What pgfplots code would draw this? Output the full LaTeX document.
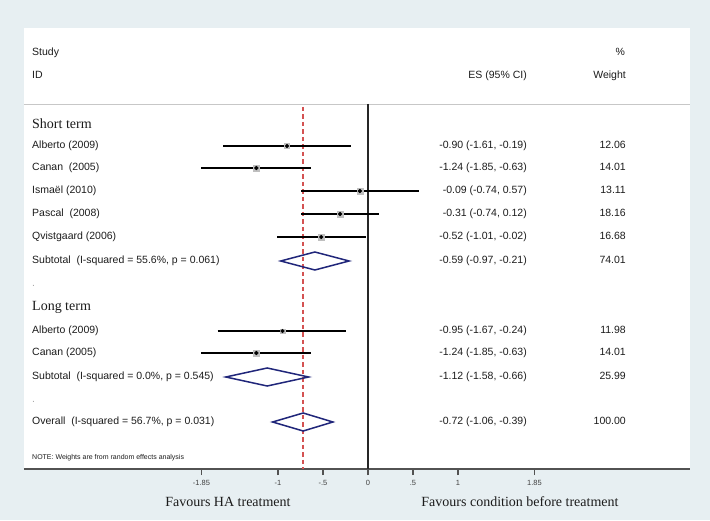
\documentclass[border=0pt]{standalone}
\usepackage{pgfplots}
\pgfplotsset{compat=1.18}
\usepackage{fontspec}
\setmainfont{Liberation Serif}
\newfontfamily\arial{Liberation Sans}
\definecolor{bgc}{RGB}{231,239,242}
\definecolor{navy}{RGB}{32,38,122}
\definecolor{refline}{RGB}{212,82,82}
\definecolor{txt}{RGB}{28,28,28}
\tikzset{
  rowtxt/.style={anchor=mid west, font=\arial\fontsize{10.5}{12}\selectfont, text=txt, inner sep=0pt},
  estxt/.style={anchor=mid east, font=\arial\fontsize{10.5}{12}\selectfont, text=txt, inner sep=0pt},
  grptxt/.style={anchor=mid west, font=\fontsize{14}{16}\selectfont, text=txt, inner sep=0pt},
}
\begin{document}
\begin{tikzpicture}
\fill[bgc] (-24pt,-51pt) rectangle (686pt,469pt);
\fill[white] (0pt,0pt) rectangle (666pt,441pt);
\begin{axis}[
  at={(0pt,0pt)}, anchor=south west,
  scale only axis, width=666pt, height=441pt,
  xmin=-3.8222, xmax=3.5778, ymin=-469, ymax=-28,
  clip=false,
  axis x line*=bottom, axis y line=none,
  x axis line style={-, line width=1.8pt, draw=black!68},
  xtick={-1.85,-1,-0.5,0,0.5,1,1.85},
  xticklabels={-1.85,-1,-.5,0,.5,1,1.85},
  tick align=outside, major tick length=6pt,
  x tick style={line width=1.4pt, draw=black!68},
  xticklabel style={font=\arial\fontsize{7.5}{8}\selectfont, text=black!75, yshift=-1.5pt},
]
% separator
\draw[black!22, line width=0.9pt] (axis cs:-3.8222,-104) -- (axis cs:3.5778,-104);
% null line
\addplot[black!85, line width=1.1pt] coordinates {(0,-104) (0,-469)};
% overall effect line
\addplot[refline, line width=1.4pt, dash pattern=on 4.5pt off 3pt, mark=none] coordinates {(-0.72,-107) (-0.72,-469)};
% confidence intervals
\addplot[black, line width=1.2pt] coordinates {(-1.61,-146) (-0.19,-146)};
\addplot[black, line width=1.2pt] coordinates {(-1.85,-168) (-0.63,-168)};
\addplot[black, line width=1.2pt] coordinates {(-0.74,-191) (0.57,-191)};
\addplot[black, line width=1.2pt] coordinates {(-0.74,-214) (0.12,-214)};
\addplot[black, line width=1.2pt] coordinates {(-1.01,-237) (-0.02,-237)};
\addplot[black, line width=1.2pt] coordinates {(-1.67,-331) (-0.24,-331)};
\addplot[black, line width=1.2pt] coordinates {(-1.85,-353) (-0.63,-353)};
% weight boxes
\addplot[only marks, mark=square*, mark size=3pt, mark options={draw=gray!50, fill=gray!50}] coordinates {(-1.24,-168) (-0.09,-191) (-0.31,-214) (-0.52,-237) (-1.24,-353)};
\addplot[only marks, mark=square*, mark size=2.3pt, mark options={draw=gray!50, fill=gray!50}] coordinates {(-0.90,-146) (-0.95,-331)};
% point estimates
\addplot[only marks, mark=*, mark size=1.9pt, mark options={draw=black, fill=black}] coordinates {(-0.90,-146) (-1.24,-168) (-0.09,-191) (-0.31,-214) (-0.52,-237) (-0.95,-331) (-1.24,-353)};
% diamonds
\addplot[navy, line width=1.5pt, line join=miter] coordinates {(-0.97,-261) (-0.59,-252) (-0.21,-261) (-0.59,-270)} -- cycle;
\addplot[navy, line width=1.5pt, line join=miter] coordinates {(-1.58,-377) (-1.12,-368) (-0.66,-377) (-1.12,-386)} -- cycle;
\addplot[navy, line width=1.5pt, line join=miter] coordinates {(-1.06,-422) (-0.72,-413) (-0.39,-422) (-0.72,-431)} -- cycle;
% headers
\node[rowtxt] at (axis cs:-3.7333,-53) {Study};
\node[rowtxt] at (axis cs:-3.7333,-76) {ID};
\node[estxt] at (axis cs:2.856,-53) {\%};
\node[estxt] at (axis cs:1.7667,-76) {ES (95\% CI)};
\node[estxt] at (axis cs:2.867,-76) {Weight};
% left column
\node[grptxt] at (axis cs:-3.7333,-126) {Short term};
\node[rowtxt] at (axis cs:-3.7333,-146) {Alberto (2009)};
\node[rowtxt] at (axis cs:-3.7333,-168) {Canan\ \ (2005)};
\node[rowtxt] at (axis cs:-3.7333,-191) {Ismaël (2010)};
\node[rowtxt] at (axis cs:-3.7333,-214) {Pascal\ \ (2008)};
\node[rowtxt] at (axis cs:-3.7333,-237) {Qvistgaard (2006)};
\node[rowtxt] at (axis cs:-3.7333,-261) {Subtotal\ \ (I-squared = 55.6\%, p = 0.061)};
\node[rowtxt, text=black!35] at (axis cs:-3.7333,-284) {.};
\node[grptxt] at (axis cs:-3.7333,-308) {Long term};
\node[rowtxt] at (axis cs:-3.7333,-331) {Alberto (2009)};
\node[rowtxt] at (axis cs:-3.7333,-353) {Canan (2005)};
\node[rowtxt] at (axis cs:-3.7333,-377) {Subtotal\ \ (I-squared = 0.0\%, p = 0.545)};
\node[rowtxt, text=black!35] at (axis cs:-3.7333,-400) {.};
\node[rowtxt] at (axis cs:-3.7333,-422) {Overall\ \ (I-squared = 56.7\%, p = 0.031)};
\node[anchor=mid west, inner sep=0pt, font=\arial\fontsize{7}{8}\selectfont, text=txt] at (axis cs:-3.7333,-457) {NOTE: Weights are from random effects analysis};
% ES column
\node[estxt] at (axis cs:1.7667,-146) {-0.90 (-1.61, -0.19)};
\node[estxt] at (axis cs:1.7667,-168) {-1.24 (-1.85, -0.63)};
\node[estxt] at (axis cs:1.7667,-191) {-0.09 (-0.74, 0.57)};
\node[estxt] at (axis cs:1.7667,-214) {-0.31 (-0.74, 0.12)};
\node[estxt] at (axis cs:1.7667,-237) {-0.52 (-1.01, -0.02)};
\node[estxt] at (axis cs:1.7667,-261) {-0.59 (-0.97, -0.21)};
\node[estxt] at (axis cs:1.7667,-331) {-0.95 (-1.67, -0.24)};
\node[estxt] at (axis cs:1.7667,-353) {-1.24 (-1.85, -0.63)};
\node[estxt] at (axis cs:1.7667,-377) {-1.12 (-1.58, -0.66)};
\node[estxt] at (axis cs:1.7667,-422) {-0.72 (-1.06, -0.39)};
% weight column
\node[estxt] at (axis cs:2.867,-146) {12.06};
\node[estxt] at (axis cs:2.867,-168) {14.01};
\node[estxt] at (axis cs:2.867,-191) {13.11};
\node[estxt] at (axis cs:2.867,-214) {18.16};
\node[estxt] at (axis cs:2.867,-237) {16.68};
\node[estxt] at (axis cs:2.867,-261) {74.01};
\node[estxt] at (axis cs:2.867,-331) {11.98};
\node[estxt] at (axis cs:2.867,-353) {14.01};
\node[estxt] at (axis cs:2.867,-377) {25.99};
\node[estxt] at (axis cs:2.867,-422) {100.00};
% bottom labels
\node[font=\fontsize{14}{16}\selectfont, text=txt, inner sep=0pt, anchor=mid] at (axis cs:-1.5556,-504) {Favours HA treatment};
\node[font=\fontsize{14}{16}\selectfont, text=txt, inner sep=0pt, anchor=mid] at (axis cs:1.6889,-504) {Favours condition before treatment};
\end{axis}
\pgfresetboundingbox
\path[use as bounding box] (-24pt,-51pt) rectangle (686pt,469pt);
\end{tikzpicture}
\end{document}
